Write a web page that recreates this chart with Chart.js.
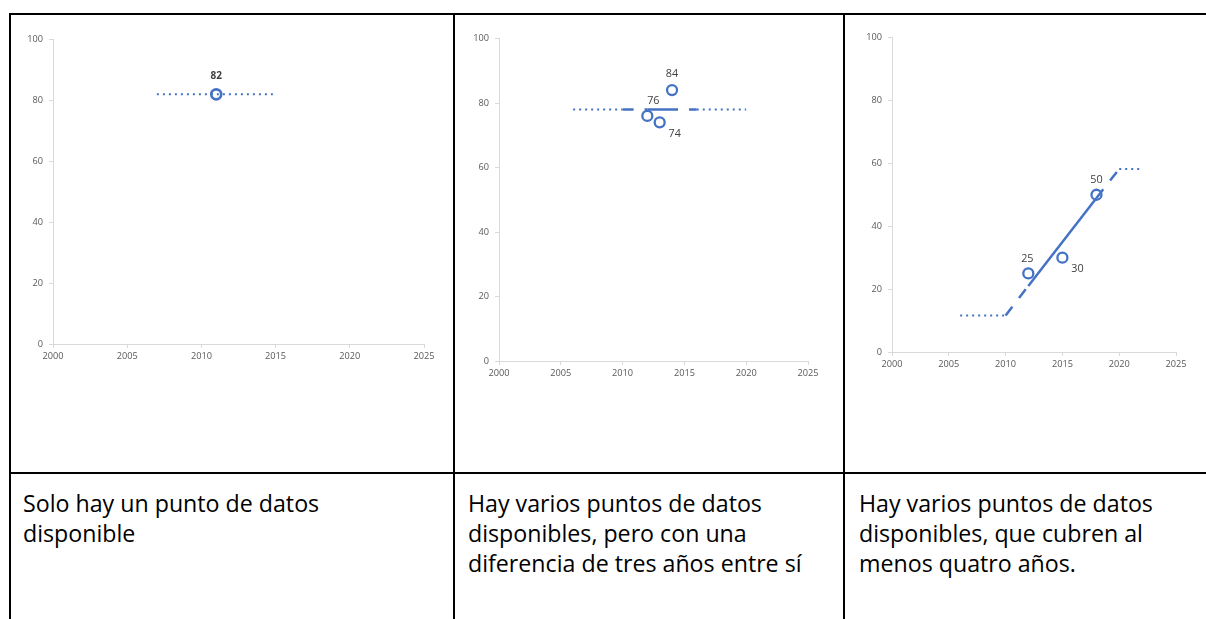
<!DOCTYPE html>
<html>
<head>
<meta charset="utf-8">
<script src="https://cdn.jsdelivr.net/npm/chart.js@4/dist/chart.umd.min.js"></script>
<style>
    html, body { margin: 0; padding: 0; background: #fff; }
    body { width: 1206px; height: 619px; position: relative; overflow: hidden; font-family: 'Open Sans', sans-serif; }
    .rule { position: absolute; background: #000; }
    .box { position: absolute; }
    .cell-text { position: absolute; font-size: 23.2px; line-height: 30px; color: #000; white-space: nowrap; }
</style>
</head>
<body>
<div class="rule" style="left:9px; top:13px; width:1197px; height:2px;"></div>
<div class="rule" style="left:9px; top:13px; width:2px; height:606px;"></div>
<div class="rule" style="left:453px; top:13px; width:2px; height:606px;"></div>
<div class="rule" style="left:843px; top:13px; width:2px; height:606px;"></div>
<div class="rule" style="left:9px; top:472px; width:1197px; height:2px;"></div>

<div class="box" style="left:13px; top:28px; width:431px; height:346px;"><canvas id="chart1"></canvas></div>
<div class="box" style="left:459px; top:27px; width:369px; height:364px;"><canvas id="chart2"></canvas></div>
<div class="box" style="left:852px; top:26px; width:344px; height:356px;"><canvas id="chart3"></canvas></div>

<div class="cell-text" style="left:23px; top:488px;">Solo hay un punto de datos<br>disponible</div>
<div class="cell-text" style="left:468px; top:488px;">Hay varios puntos de datos<br>disponibles, pero con una<br>diferencia de tres años entre sí</div>
<div class="cell-text" style="left:859px; top:488px;">Hay varios puntos de datos<br>disponibles, que cubren al<br>menos quatro años.</div>

<script>
// axis ticks
const yearTicks = [2000, 2005, 2010, 2015, 2020, 2025];
const valueTicks = [0, 20, 40, 60, 80, 100];

// panel 1: a single data point
const c1Years = [2011];
const c1Values = [82];
const c1TrendYears = [2007, 2015];
const c1TrendValues = [82, 82];

// panel 2: points close together
const c2Years = [2012, 2013, 2014];
const c2Values = [76, 74, 84];
const c2TrendYears = [2006, 2010, 2012, 2014, 2016, 2020];
const c2TrendValues = [78, 78, 78, 78, 78, 78];

// panel 3: points spread over several years
const c3Years = [2012, 2015, 2018];
const c3Values = [25, 30, 50];
const c3TrendYears = [2006, 2010, 2012, 2018, 2020, 2022];
const c3TrendValues = [11.6, 11.6, 21, 49, 58.2, 58.2];

const BLUE = '#4472C4';
const AXIS = '#d9d9d9';
const TICK_TEXT = '#595959';
const LABEL_TEXT = '#404040';

const toXY = (xs, ys) => xs.map((x, i) => ({ x, y: ys[i] }));

const DASHES = {
    dot: { dash: [2, 4], width: 2 },
    dash: { dash: [11, 11], width: 2.5 },
    solid: { dash: [], width: 2.5 }
};

const pointLabels = {
    id: 'pointLabels',
    afterDatasetsDraw(chart, args, opts) {
        if (!opts || !opts.offsets) return;
        const ctx = chart.ctx;
        const meta = chart.getDatasetMeta(0);
        const data = chart.data.datasets[0].data;
        ctx.save();
        ctx.font = `${opts.bold ? 'bold ' : ''}${opts.size}px 'Open Sans', sans-serif`;
        ctx.fillStyle = LABEL_TEXT;
        ctx.textAlign = 'center';
        ctx.textBaseline = 'middle';
        meta.data.forEach((el, i) => {
            const [dx, dy] = opts.offsets[i];
            ctx.fillText(String(data[i].y), el.x + dx, el.y + dy);
        });
        ctx.restore();
    }
};

function makeChart(id, years, values, trendYears, trendValues, segStyles, dashOffsets, labelOpts) {
    return new Chart(document.getElementById(id), {
        type: 'scatter',
        data: {
            datasets: [
                {
                    data: toXY(years, values),
                    pointRadius: 5,
                    pointBorderWidth: labelOpts.bold ? 2.6 : 2.3,
                    pointBorderColor: BLUE,
                    pointBackgroundColor: 'rgba(0,0,0,0)',
                    showLine: false
                },
                {
                    data: toXY(trendYears, trendValues),
                    showLine: true,
                    pointRadius: 0,
                    borderColor: BLUE,
                    borderWidth: 2.5,
                    borderCapStyle: 'butt',
                    segment: {
                        borderDash: (c) => DASHES[segStyles[c.p0DataIndex]].dash,
                        borderWidth: (c) => DASHES[segStyles[c.p0DataIndex]].width,
                        borderDashOffset: (c) => dashOffsets[c.p0DataIndex] || 0
                    }
                }
            ]
        },
        options: {
            responsive: true,
            maintainAspectRatio: false,
            animation: false,
            events: [],
            layout: { padding: { top: 10, right: 20, left: 0, bottom: 0 } },
            plugins: {
                legend: { display: false },
                tooltip: { enabled: false },
                pointLabels: labelOpts
            },
            scales: {
                x: {
                    type: 'linear',
                    min: 2000,
                    max: 2025,
                    afterBuildTicks: (s) => { s.ticks = yearTicks.map((v) => ({ value: v })); },
                    afterFit: (s) => { s.height = 30; },
                    grid: { drawOnChartArea: false, drawTicks: true, tickLength: 4, color: AXIS },
                    border: { color: AXIS, width: 1 },
                    ticks: {
                        color: TICK_TEXT,
                        padding: 3,
                        maxRotation: 0,
                        autoSkip: false,
                        font: { family: "'Open Sans', sans-serif", size: 9.2 },
                        callback: (v) => String(v)
                    }
                },
                y: {
                    type: 'linear',
                    min: 0,
                    max: 100,
                    afterBuildTicks: (s) => { s.ticks = valueTicks.map((v) => ({ value: v })); },
                    afterFit: (s) => { s.width = 40; },
                    grid: { drawOnChartArea: false, drawTicks: true, tickLength: 4, color: AXIS },
                    border: { color: AXIS, width: 1 },
                    ticks: {
                        color: TICK_TEXT,
                        padding: 6,
                        font: { family: "'Open Sans', sans-serif", size: 9.2 },
                        callback: (v) => String(v)
                    }
                }
            }
        },
        plugins: [pointLabels]
    });
}

makeChart('chart1', c1Years, c1Values, c1TrendYears, c1TrendValues,
    ['dot'], [0],
    { size: 10, bold: true, offsets: [[0, -18]] });

makeChart('chart2', c2Years, c2Values, c2TrendYears, c2TrendValues,
    ['dot', 'dash', 'solid', 'dash', 'dot'], [0, 0, 0, 5, 0],
    { size: 10.8, bold: false, offsets: [[6, -15], [15, 12], [0, -16]] });

makeChart('chart3', c3Years, c3Values, c3TrendYears, c3TrendValues,
    ['dot', 'dash', 'solid', 'dash', 'dot'], [0, 0, 0, 0, 0],
    { size: 10.8, bold: false, offsets: [[-1, -14], [15, 11], [0, -15]] });
</script>
</body>
</html>
